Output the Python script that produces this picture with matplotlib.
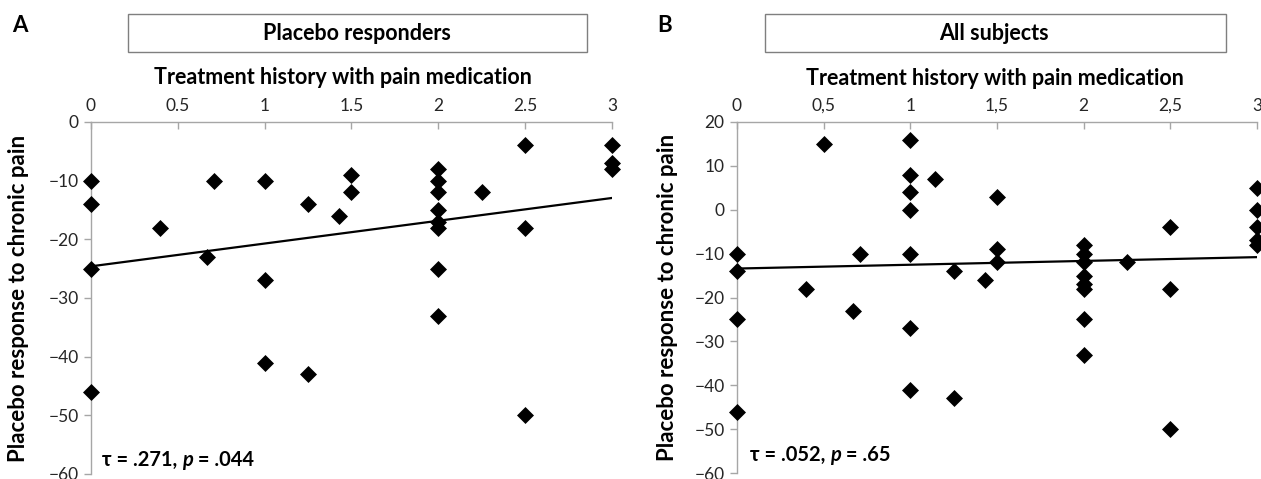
import numpy as np
import matplotlib
matplotlib.use("Agg")
import matplotlib.pyplot as plt
from matplotlib.patches import Rectangle

plt.rcParams['font.family'] = ['Lato', 'DejaVu Sans']

# Panel A: placebo responders
a_x = [0, 0, 0, 0, 0.4, 0.67, 0.71, 1, 1, 1, 1.25, 1.25, 1.43, 1.5, 1.5,
       2, 2, 2, 2, 2, 2, 2, 2, 2.25, 2.5, 2.5, 2.5, 3, 3, 3]
a_y = [-10, -14, -25, -46, -18, -23, -10, -10, -27, -41, -14, -43, -16, -9, -12,
       -8, -10, -12, -15, -17, -18, -25, -33, -12, -4, -18, -50, -4, -7, -8]

# Panel B: all subjects (responders + non-responders)
extra_x = [0.5, 1, 1, 1, 1, 1.14, 1.5, 3, 3]
extra_y = [15, 16, 8, 4, 0, 7, 3, 5, 0]
b_x = a_x + extra_x
b_y = a_y + extra_y

# linear trend lines (value at x=0 and x=3)
trend_x = [0, 3]
a_trend_y = [-24.6, -12.95]
b_trend_y = [-13.4, -10.8]

a_xticks = [0, 0.5, 1, 1.5, 2, 2.5, 3]
a_xticklabels = ['0', '0.5', '1', '1.5', '2', '2.5', '3']
b_xticklabels = ['0', '0,5', '1', '1,5', '2', '2,5', '3']
a_yticks = [0, -10, -20, -30, -40, -50, -60]
b_yticks = [20, 10, 0, -10, -20, -30, -40, -50, -60]

titles = ['Placebo responders', 'All subjects']
letters = ['A', 'B']
stats_plain = [('.271', '.044'), ('.052', '.65')]

W, H = 1261, 479
fig = plt.figure(figsize=(W / 100, H / 100), dpi=100)

def px(x0, y0, x1, y1):
    return [x0 / W, 1 - y1 / H, (x1 - x0) / W, (y1 - y0) / H]

axA = fig.add_axes(px(91, 122, 612, 474))
axB = fig.add_axes(px(737, 122, 1257, 473))

spine_col = '#a6a6a6'
txt_col = '#262626'
LBL = 15.5

configs = [
    (axA, a_x, a_y, a_trend_y, a_xticklabels, a_yticks, (-60, 0), 0),
    (axB, b_x, b_y, b_trend_y, b_xticklabels, b_yticks, (-60, 20), 1),
]

for ax, xs, ys, ty, xtl, yt, ylim, i in configs:
    ax.scatter(xs, ys, marker='D', s=75, color='black', zorder=3, linewidths=0,
               clip_on=False)
    ax.plot(trend_x, ty, color='black', lw=1.6, zorder=2)
    ax.set_xlim(0, 3)
    ax.set_ylim(*ylim)
    ax.set_xticks(a_xticks)
    ax.set_xticklabels(xtl)
    ax.set_yticks(yt)
    ax.set_yticklabels([str(v).replace('-', '\u2212') for v in yt])
    ax.xaxis.tick_top()
    ax.xaxis.set_label_position('top')
    for s in ['bottom', 'right']:
        ax.spines[s].set_visible(False)
    for s in ['top', 'left']:
        ax.spines[s].set_color(spine_col)
        ax.spines[s].set_linewidth(1.0)
    ax.tick_params(axis='x', direction='in', length=5, width=1, color=spine_col,
                   labelsize=12.5, labelcolor=txt_col, pad=6)
    ax.tick_params(axis='y', direction='out', length=5, width=1, color=spine_col,
                   labelsize=12.5, labelcolor=txt_col, pad=4)
    ax.set_xlabel('Treatment history with pain medication', fontsize=LBL,
                  fontweight='bold', va='center')
    ax.set_ylabel('Placebo response to chronic pain', fontsize=16,
                  fontweight='bold', va='center')
    ax.xaxis.set_label_coords([0.484, 0.496][i], 1.125)
    ax.yaxis.set_label_coords([-0.140, -0.133][i], 0.5)
    ax.patch.set_alpha(0)
    tau, p = stats_plain[i]
    ax.text([0.021, 0.025][i], [0.04, 0.051][i],
            '\u03c4' + f' = {tau}, ', transform=ax.transAxes,
            fontsize=14.5, fontweight='bold', va='center', ha='left')

# annotations with italic p: separate text pieces
fig.canvas.draw()
r = fig.canvas.get_renderer()
for ax, i in [(axA, 0), (axB, 1)]:
    t = ax.texts[0]
    bb = t.get_window_extent(renderer=r)
    tau, p = stats_plain[i]
    y_c = (bb.y0 + bb.y1) / 2 / H
    tp = fig.text(bb.x1 / W, y_c, 'p', fontsize=14.5, fontweight='bold',
                  style='italic', va='center', ha='left')
    bb2 = tp.get_window_extent(renderer=r)
    fig.text(bb2.x1 / W, y_c, f' = {p}', fontsize=14.5, fontweight='bold',
             va='center', ha='left')

# title boxes
boxes = [(128, 14, 587, 52), (765, 14, 1226, 52)]
for (x0, y0, x1, y1), title, cx in zip(boxes, titles, [357, 994]):
    fig.patches.append(Rectangle((x0 / W, 1 - y1 / H), (x1 - x0) / W, (y1 - y0) / H,
                                 transform=fig.transFigure, fill=False,
                                 edgecolor='#7f7f7f', linewidth=1.0))
    fig.text(cx / W, 1 - 33 / H, title, fontsize=LBL, fontweight='bold',
             ha='center', va='center')

for letter, lx in zip(letters, [12, 657]):
    fig.text(lx / W, 1 - 25 / H, letter, fontsize=16, fontweight='bold',
             ha='left', va='center')

fig.savefig('out.png', dpi=100)
